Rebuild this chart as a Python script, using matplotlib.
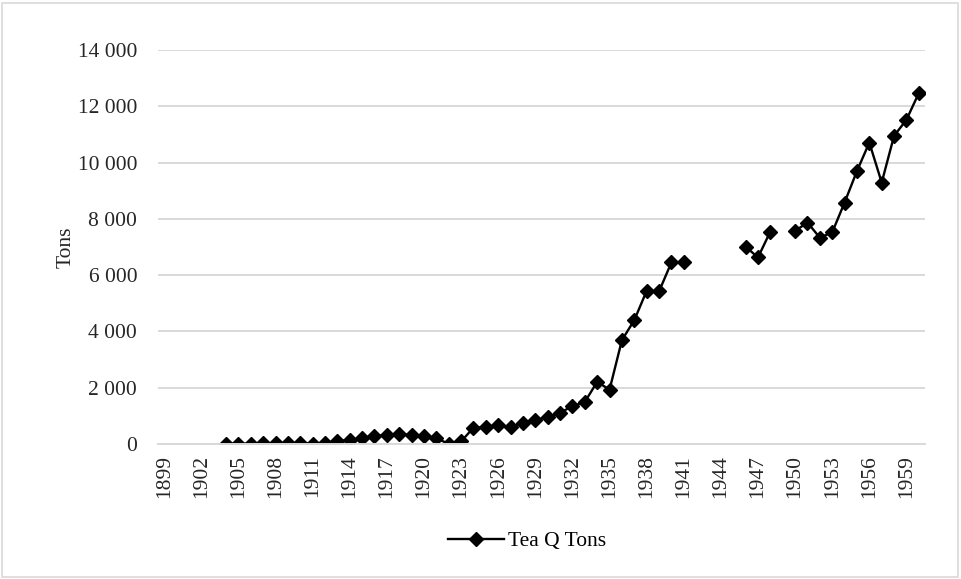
import numpy as np
import matplotlib
matplotlib.use("Agg")
import matplotlib.pyplot as plt
from matplotlib.patches import Rectangle

# Jahre 1899..1960 als Kategorien, Luecken = NaN
years = list(range(1899, 1961))
tea_tons = {
    1904: 10, 1905: 10, 1906: 15, 1907: 20, 1908: 25, 1909: 30, 1910: 40,
    1911: 10, 1912: 30, 1913: 100, 1914: 150, 1915: 200, 1916: 280,
    1917: 330, 1918: 350, 1919: 330, 1920: 280, 1921: 200, 1922: 10,
    1923: 90, 1924: 580, 1925: 590, 1926: 680, 1927: 600, 1928: 740,
    1929: 860, 1930: 950, 1931: 1110, 1932: 1345, 1933: 1490, 1934: 2210,
    1935: 1930, 1936: 3690, 1937: 4400, 1938: 5440, 1939: 5420,
    1940: 6450, 1941: 6450,
    1946: 7010, 1947: 6630, 1948: 7550,
    1950: 7570, 1951: 7870, 1952: 7330, 1953: 7520, 1954: 8580,
    1955: 9700, 1956: 10710, 1957: 9290, 1958: 10950, 1959: 11520,
    1960: 12470,
}
values = [tea_tons.get(y, np.nan) for y in years]
y_ticks = [0, 2000, 4000, 6000, 8000, 10000, 12000, 14000]
y_ticklabels = ["0", "2 000", "4 000", "6 000", "8 000", "10 000", "12 000", "14 000"]

plt.rcParams["font.family"] = ["Liberation Serif", "DejaVu Serif"]
plt.rcParams["font.size"] = 15.5

fig = plt.figure(figsize=(9.61, 5.79), dpi=100)
ax = fig.add_axes([158 / 961, 1 - 444 / 579, 767 / 961, 394 / 579])

x = np.arange(len(years))
ax.plot(x, values, color="black", lw=1.7, marker="D", ms=7.6,
        label="Tea Q Tons")

ax.set_xlim(-0.5, len(years) - 0.5)
ax.set_ylim(0, 14000)
ax.set_yticks(y_ticks)
ax.set_yticklabels(y_ticklabels, color="#262626")
ax.set_xticks(x[::3])
ax.set_xticklabels([str(y) for y in years[::3]], rotation=90, color="#262626")
ax.tick_params(axis="both", length=0)
ax.tick_params(axis="y", pad=15)
ax.tick_params(axis="x", pad=8)
ax.grid(axis="y", color="#D9D9D9", lw=1.4)
ax.set_axisbelow(True)
for s in ["top", "right", "left"]:
    ax.spines[s].set_visible(False)
ax.spines["bottom"].set_color("#D9D9D9")
ax.spines["bottom"].set_linewidth(1.4)
ax.set_ylabel("Tons", color="#262626", labelpad=1.5)

fig.legend(loc="center", bbox_to_anchor=(527 / 961, 1 - 541 / 579), frameon=False,
           handlelength=2.6, handletextpad=0.15)

fig.patches.append(Rectangle((2 / 961, 2 / 579), 956 / 961, 574 / 579,
                             transform=fig.transFigure, fill=False,
                             edgecolor="#D9D9D9", lw=1.2))

fig.savefig("out.png", dpi=100)
